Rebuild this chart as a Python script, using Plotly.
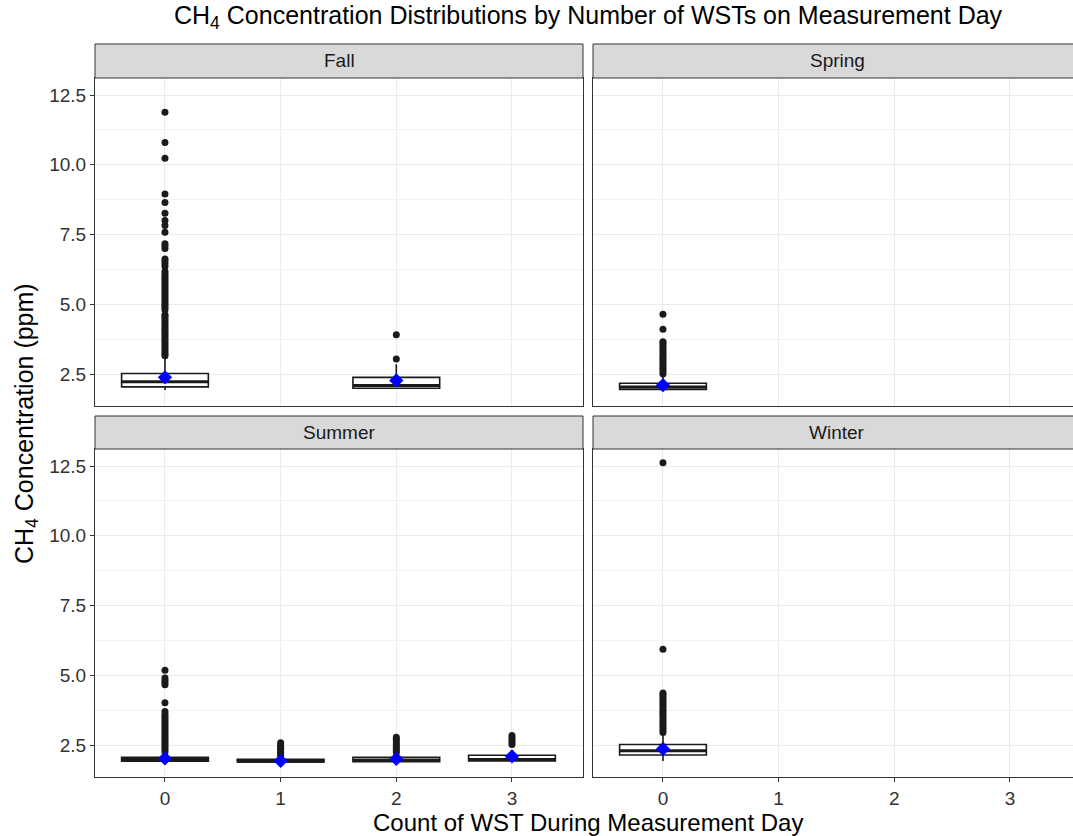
import plotly.graph_objects as go

# ---- data -------------------------------------------------------------
seasons = ["Fall", "Spring", "Summer", "Winter"]

# per-box summary statistics
fall_counts = [0, 2]
fall_q1 = [2.04, 1.99]
fall_median = [2.22, 2.09]
fall_q3 = [2.52, 2.38]
fall_lower = [1.93, 1.97]
fall_upper = [3.12, 2.85]
fall_mean = [2.38, 2.27]

spring_counts = [0]
spring_q1 = [1.95]
spring_median = [2.03]
spring_q3 = [2.17]
spring_lower = [1.93]
spring_upper = [2.46]
spring_mean = [2.10]

summer_counts = [0, 1, 2, 3]
summer_q1 = [1.92, 1.89, 1.90, 1.93]
summer_median = [1.98, 1.92, 1.96, 1.98]
summer_q3 = [2.06, 1.99, 2.06, 2.13]
summer_lower = [1.88, 1.86, 1.87, 1.90]
summer_upper = [2.20, 2.08, 2.18, 2.15]
summer_mean = [2.02, 1.93, 2.00, 2.09]

winter_counts = [0]
winter_q1 = [2.14]
winter_median = [2.29]
winter_q3 = [2.52]
winter_lower = [1.93]
winter_upper = [2.92]
winter_mean = [2.36]

# outlying observations
fall0_out = [3.15, 3.22, 3.30, 3.38, 3.46, 3.54, 3.62, 3.70, 3.78, 3.86, 3.94,
             4.02, 4.10, 4.18, 4.26, 4.34, 4.42, 4.50, 4.58, 4.62,
             4.80, 4.88, 4.96, 5.04, 5.12, 5.20, 5.28, 5.36, 5.45,
             5.52, 5.60, 5.68, 5.76, 5.84, 5.92, 6.00, 6.08, 6.17,
             6.35, 6.45, 6.55, 6.62, 7.00, 7.10, 7.17, 7.58, 7.82, 8.00,
             8.26, 8.65, 8.95, 10.23, 10.80, 11.88]
fall2_out = [3.04, 3.91]
spring0_out = [2.50, 2.58, 2.66, 2.74, 2.82, 2.90, 2.98, 3.06, 3.14, 3.22,
               3.30, 3.38, 3.46, 3.54, 3.62, 3.66, 4.10, 4.64]
summer0_out = [2.25, 2.32, 2.40, 2.48, 2.56, 2.64, 2.72, 2.80, 2.88, 2.96,
               3.04, 3.12, 3.20, 3.28, 3.36, 3.44, 3.52, 3.60, 3.70,
               4.01, 4.66, 4.74, 4.82, 4.90, 5.18]
summer1_out = [2.12, 2.18, 2.24, 2.32, 2.38, 2.44, 2.50, 2.58]
summer2_out = [2.22, 2.30, 2.38, 2.46, 2.54, 2.62, 2.70, 2.78]
summer3_out = [2.52, 2.60, 2.68, 2.76, 2.84]
winter0_out = [2.95, 3.03, 3.11, 3.19, 3.27, 3.35, 3.43, 3.51, 3.59, 3.67,
               3.75, 3.83, 3.91, 3.99, 4.07, 4.15, 4.23, 4.30, 4.36,
               5.93, 12.62]

outliers = {
    ("Fall", 0): fall0_out, ("Fall", 2): fall2_out,
    ("Spring", 0): spring0_out,
    ("Summer", 0): summer0_out, ("Summer", 1): summer1_out,
    ("Summer", 2): summer2_out, ("Summer", 3): summer3_out,
    ("Winter", 0): winter0_out,
}

stats = {
    "Fall": (fall_counts, fall_q1, fall_median, fall_q3, fall_lower, fall_upper, fall_mean),
    "Spring": (spring_counts, spring_q1, spring_median, spring_q3, spring_lower, spring_upper, spring_mean),
    "Summer": (summer_counts, summer_q1, summer_median, summer_q3, summer_lower, summer_upper, summer_mean),
    "Winter": (winter_counts, winter_q1, winter_median, winter_q3, winter_lower, winter_upper, winter_mean),
}

x_ticks = [0, 1, 2, 3]
y_ticks = [2.5, 5.0, 7.5, 10.0, 12.5]
y_tick_text = ["2.5", "5.0", "7.5", "10.0", "12.5"]

BOX_WIDTH = 0.75
FONT = "Liberation Sans, Arial"

# ---- layout geometry (pixels) ----------------------------------------
W, H = 1073, 836
def px_x(p): return p / W
def px_y(p): return 1 - p / H

col_px = [(95, 583), (593, 1073)]
row_px = [(78, 406), (449, 777)]
strip_px = [(44, 78), (416, 449)]
x_ranges = [[-0.605, 3.614], [-0.605, 3.545]]
y_range = [1.353, 13.11]

fig = go.Figure()
axis_ids = ["", "2", "3", "4"]

for i, season in enumerate(seasons):
    r, c = divmod(i, 2)
    xa, ya = "x" + axis_ids[i], "y" + axis_ids[i]
    counts, q1, med, q3, lo, hi, mean = stats[season]
    fig.add_trace(go.Box(
        x=counts, q1=q1, median=med, q3=q3, lowerfence=lo, upperfence=hi,
        width=BOX_WIDTH, whiskerwidth=0, boxpoints=False,
        fillcolor="white", line=dict(color="#1a1a1a", width=1.6),
        xaxis=xa, yaxis=ya, showlegend=False, hoverinfo="skip"))
    # heavier median bar across each box
    for k, m in zip(counts, med):
        fig.add_trace(go.Scatter(
            x=[k - BOX_WIDTH / 2, k + BOX_WIDTH / 2], y=[m, m], mode="lines",
            line=dict(color="#1a1a1a", width=3),
            xaxis=xa, yaxis=ya, showlegend=False, hoverinfo="skip"))
    for k in counts:
        vals = outliers.get((season, k), [])
        fig.add_trace(go.Scatter(
            x=[k] * len(vals), y=vals, mode="markers",
            marker=dict(color="#1a1a1a", size=7),
            xaxis=xa, yaxis=ya, showlegend=False, hoverinfo="skip"))
    fig.add_trace(go.Scatter(
        x=counts, y=mean, mode="markers",
        marker=dict(color="#0000ff", size=11, symbol="diamond"),
        xaxis=xa, yaxis=ya, showlegend=False, hoverinfo="skip"))

    bottom = r == 1
    left = c == 0
    x0, x1 = col_px[c]
    y0, y1 = row_px[r]
    fig.update_layout(**{
        "xaxis" + axis_ids[i]: dict(
            domain=[px_x(x0), min(1.0, px_x(x1))], range=x_ranges[c],
            anchor=ya, tickvals=x_ticks, showticklabels=bottom,
            ticks="outside" if bottom else "", ticklen=4, tickcolor="#333333",
            tickfont=dict(family=FONT, size=19, color="#333333"),
            showgrid=True, gridcolor="#ebebeb", gridwidth=1.3, zeroline=False,
            showline=True, linecolor="#333333", linewidth=1, mirror=True,
            fixedrange=True),
        "yaxis" + axis_ids[i]: dict(
            domain=[px_y(y1), px_y(y0)], range=y_range, anchor=xa,
            tickvals=y_ticks, ticktext=y_tick_text, showticklabels=left,
            ticks="outside" if left else "", ticklen=4, tickcolor="#333333",
            tickfont=dict(family=FONT, size=19, color="#333333"),
            showgrid=True, gridcolor="#ebebeb", gridwidth=1.3, zeroline=False,
            minor=dict(tickvals=[3.75, 6.25, 8.75, 11.25], showgrid=True,
                       gridcolor="#f2f2f2", gridwidth=0.7),
            showline=True, linecolor="#333333", linewidth=1, mirror=left,
            fixedrange=True),
    })

    # facet strip
    s0, s1 = strip_px[r]
    sx1 = px_x(x1) if c == 0 else 1.02
    fig.add_shape(type="rect", xref="paper", yref="paper",
                  x0=px_x(x0), x1=sx1, y0=px_y(s1), y1=px_y(s0),
                  fillcolor="#d9d9d9", line=dict(color="#333333", width=1))
    fig.add_annotation(xref="paper", yref="paper",
                       x=(px_x(x0) + px_x(x1)) / 2 if c == 0 else px_x(837),
                       y=px_y((s0 + s1) / 2), text=season, showarrow=False,
                       xanchor="center", yanchor="middle",
                       font=dict(family=FONT, size=19, color="#1a1a1a"))

fig.add_annotation(xref="paper", yref="paper", x=px_x(588), y=px_y(17),
                   text="CH<sub>4</sub> Concentration Distributions by Number of WSTs on Measurement Day",
                   showarrow=False, xanchor="center", yanchor="middle",
                   font=dict(family=FONT, size=25, color="black"))
fig.add_annotation(xref="paper", yref="paper", x=px_x(588), y=px_y(822),
                   text="Count of WST During Measurement Day",
                   showarrow=False, xanchor="center", yanchor="middle",
                   font=dict(family=FONT, size=24, color="black"))
fig.add_annotation(xref="paper", yref="paper", x=px_x(26), y=px_y(424),
                   text="CH<sub>4</sub> Concentration (ppm)", textangle=-90,
                   showarrow=False, xanchor="center", yanchor="middle",
                   font=dict(family=FONT, size=25, color="black"))

fig.update_layout(width=W, height=H, margin=dict(l=0, r=0, t=0, b=0),
                  paper_bgcolor="white", plot_bgcolor="white", showlegend=False)

fig.write_html("out.html")
